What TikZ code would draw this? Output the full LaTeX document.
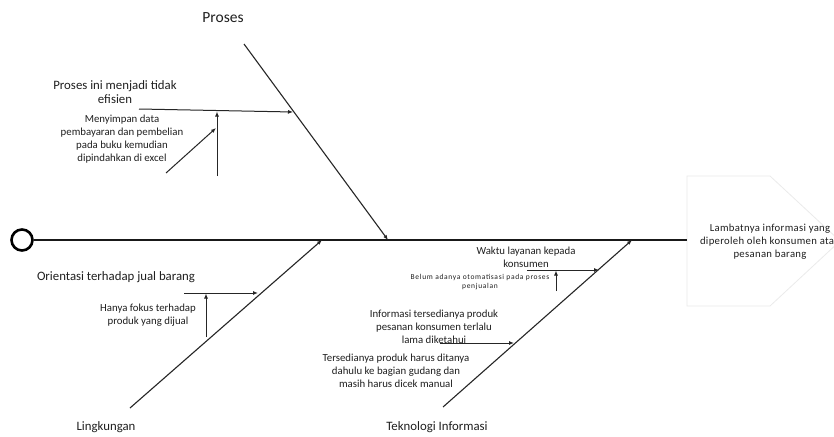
\documentclass[tikz,border=0pt]{standalone}
\usepackage{fontspec}
\setmainfont{Carlito}
\usetikzlibrary{arrows.meta}
\tikzset{
  bone/.style={line width=1.1pt, draw=black!85, -{Latex[length=5pt,width=4pt]}},
  causearrow/.style={line width=1pt, draw=black!85, -{Latex[length=5pt,width=4pt]}},
  lbl/.style={inner sep=0pt, align=center, text=black!88},
  bigtxt/.style={lbl, font=\fontsize{15.5}{18}\selectfont},
  maintxt/.style={lbl, font=\fontsize{12.8}{14}\selectfont},
  medtxt/.style={lbl, font=\fontsize{10.8}{13.2}\selectfont},
  tinytxt/.style={lbl, font=\fontsize{7.5}{9.5}\selectfont\addfontfeature{LetterSpace=9}},
  headtxt/.style={lbl, font=\fontsize{10.7}{13.2}\selectfont\addfontfeature{LetterSpace=3}},
}
\begin{document}
\begin{tikzpicture}[x=1pt,y=-1pt]
\clip (0,0) rectangle (834,436);
\fill[white] (0,0) rectangle (834,436);

% head
\coordinate (h1) at (687,176);
\coordinate (h2) at (770,176);
\coordinate (h3) at (840,241);
\coordinate (h4) at (770,306);
\coordinate (h5) at (687,306);
\draw[black!8, line width=0.8pt] (h1) -- (h2) -- (h3) -- (h4) -- (h5) -- cycle;
\node[headtxt] (head) at (770,242) {Lambatnya informasi yang\\diperoleh oleh konsumen atau\\pesanan barang};

% tail circle and spine
\node[circle, draw=black, line width=2.6pt, minimum size=21pt, inner sep=0pt] (tail) at (22,240) {};
\coordinate (hl) at (687,240);
\draw[line width=1.9pt, black!90] (tail.east) -- (hl);

% spine points
\coordinate (pS) at (388,240);
\coordinate (lS) at (322,240);
\coordinate (tS) at (632,240);

% bones
\coordinate (pT) at (244,44);
\coordinate (lB) at (130,408);
\coordinate (tB) at (443,407);
\draw[bone] (pT) -- (pS);
\draw[bone] (lB) -- (lS);
\draw[bone] (tB) -- (tS);

% category labels
\node[bigtxt] (proses) at (223,18) {Proses};
\node[maintxt] (lingk) at (106,427) {Lingkungan};
\node[maintxt] (tekinf) at (437,427) {Teknologi Informasi};

% Proses cause
\node[maintxt] (c1) at (115,92) {Proses ini menjadi tidak\\efisien};
\coordinate (c1a) at (139,109);
\coordinate (c1b) at (293,112);
\draw[causearrow] (c1a) -- (c1b);
\node[medtxt] (s1) at (122,139) {Menyimpan data\\pembayaran dan pembelian\\pada buku kemudian\\dipindahkan di excel};
\coordinate (s1a) at (217,176);
\coordinate (s1b) at (217,111.5);
\draw[causearrow] (s1a) -- (s1b);
\coordinate (s1c) at (166,173);
\coordinate (s1d) at (216,128);
\draw[causearrow] (s1c) -- (s1d);

% Lingkungan cause
\node[maintxt] (c2) at (116,277) {Orientasi terhadap jual barang};
\coordinate (c2a) at (184,293);
\coordinate (c2b) at (258,293);
\draw[causearrow] (c2a) -- (c2b);
\node[medtxt] (s2) at (148,315) {Hanya fokus terhadap\\produk yang dijual};
\coordinate (s2a) at (206,337);
\coordinate (s2b) at (206,293.5);
\draw[causearrow] (s2a) -- (s2b);

% Teknologi Informasi causes
\node[medtxt] (c3) at (526,257) {Waktu layanan kepada\\konsumen};
\coordinate (c3a) at (527,270);
\coordinate (c3b) at (599,270);
\draw[causearrow] (c3a) -- (c3b);
\node[tinytxt] (s3) at (480,282) {Belum adanya otomatisasi pada proses\\penjualan};
\coordinate (s3a) at (556,291);
\coordinate (s3b) at (556,270.5);
\draw[causearrow] (s3a) -- (s3b);

\node[medtxt] (c4) at (434,327) {Informasi tersedianya produk\\pesanan konsumen terlalu\\lama diketahui};
\coordinate (c4a) at (440,343);
\coordinate (c4b) at (514,343);
\draw[causearrow] (c4a) -- (c4b);
\node[medtxt] (s4) at (396,371) {Tersedianya produk harus ditanya\\dahulu ke bagian gudang dan\\masih harus dicek manual};
\end{tikzpicture}
\end{document}
